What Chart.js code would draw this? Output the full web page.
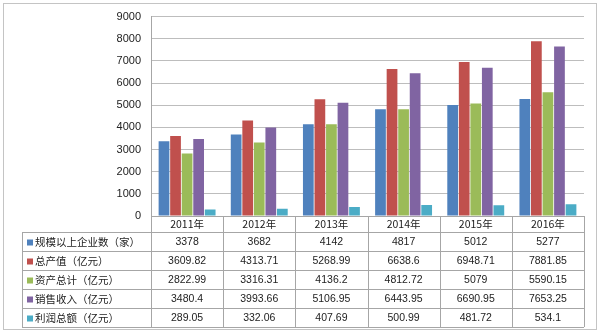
<!DOCTYPE html>
<html>
<head>
<meta charset="utf-8">
<script src="https://cdn.jsdelivr.net/npm/chart.js@4"></script>
<style>
  html, body { margin: 0; padding: 0; background: #fff; }
  canvas { display: block; }
</style>
</head>
<body>
<canvas id="c" width="600" height="335"></canvas>
<script>
// 2011-2016 industry figures, bars plus a data table under the axis
const categories = ['2011年', '2012年', '2013年', '2014年', '2015年', '2016年'];
const seriesNames = ['规模以上企业数（家）', '总产值（亿元）', '资产总计（亿元）', '销售收入（亿元）', '利润总额（亿元）'];
const firms   = [3378, 3682, 4142, 4817, 5012, 5277];
const output  = [3609.82, 4313.71, 5268.99, 6638.6, 6948.71, 7881.85];
const assets  = [2822.99, 3316.31, 4136.2, 4812.72, 5079, 5590.15];
const revenue = [3480.4, 3993.66, 5106.95, 6443.95, 6690.95, 7653.25];
const profit  = [289.05, 332.06, 407.69, 500.99, 481.72, 534.1];
const yTicks  = [0, 1000, 2000, 3000, 4000, 5000, 6000, 7000, 8000, 9000];

const COLORS = ['#4F81BD', '#C0504D', '#9BBB59', '#8064A2', '#4BACC6'];
const allSeries = [firms, output, assets, revenue, profit];

const LINE = '#a6a6a6';
const TEXT = '#222';
const CJK = '"Noto Sans CJK SC", sans-serif';
const NUM = '"Liberation Sans", Arial, sans-serif';

// draws the data table (year header, legend keys, values) under the x axis
const tablePlugin = {
    id: 'dataTable',
    beforeDraw(chart) {
        const ctx = chart.ctx;
        ctx.save();
        ctx.fillStyle = '#fff';
        ctx.fillRect(0, 0, chart.width, chart.height);
        ctx.strokeStyle = '#c4c4c4';
        ctx.lineWidth = 1;
        ctx.strokeRect(3.5, 3.5, 593, 326);
        ctx.restore();
    },
    afterDraw(chart) {
        const ctx = chart.ctx;
        const x = chart.scales.x;
        const area = chart.chartArea;
        const step = (area.right - area.left) / categories.length;
        const top = area.bottom;
        const rowH = 19;
        const firstRow = top + 16;
        const tableLeft = 22;
        const bottom = firstRow + rowH * seriesNames.length;

        ctx.save();
        ctx.strokeStyle = LINE;
        ctx.lineWidth = 1;
        ctx.beginPath();
        for (let i = 0; i <= categories.length; i++) {
            const px = Math.round(area.left + step * i) + 0.5;
            ctx.moveTo(px, top);
            ctx.lineTo(px, bottom);
        }
        ctx.moveTo(tableLeft + 0.5, firstRow);
        ctx.lineTo(tableLeft + 0.5, bottom);
        for (let r = 0; r <= seriesNames.length; r++) {
            const py = Math.round(firstRow + rowH * r) + 0.5;
            ctx.moveTo(tableLeft, py);
            ctx.lineTo(area.right, py);
        }
        ctx.stroke();

        ctx.textBaseline = 'middle';
        ctx.textAlign = 'center';
        ctx.fillStyle = TEXT;
        ctx.font = '10.5px ' + CJK;
        categories.forEach((c, i) => {
            ctx.fillText(c, x.getPixelForValue(i), top + 8);
        });

        seriesNames.forEach((name, r) => {
            const cy = firstRow + rowH * r + rowH / 2 + 1;
            ctx.fillStyle = COLORS[r];
            ctx.fillRect(27, cy - 3, 6, 6);
            ctx.fillStyle = TEXT;
            ctx.textAlign = 'left';
            ctx.font = '10.5px ' + CJK;
            ctx.fillText(name, 35, cy);
            ctx.textAlign = 'center';
            ctx.font = '10.5px ' + NUM;
            allSeries[r].forEach((v, i) => {
                ctx.fillText(String(v), x.getPixelForValue(i), cy);
            });
        });
        ctx.restore();
    }
};

new Chart(document.getElementById('c'), {
    type: 'bar',
    data: {
        labels: categories,
        datasets: seriesNames.map((name, i) => ({
            label: name,
            data: allSeries[i],
            backgroundColor: COLORS[i],
            categoryPercentage: 0.8,
            barPercentage: 0.93
        }))
    },
    options: {
        responsive: false,
        animation: false,
        devicePixelRatio: 1,
        layout: { padding: { left: 0, right: 16, top: 14, bottom: 0 } },
        plugins: {
            legend: { display: false },
            tooltip: { enabled: false }
        },
        scales: {
            x: {
                grid: { display: false },
                border: { color: LINE },
                ticks: { display: false },
                afterFit(scale) { scale.height = 119; }
            },
            y: {
                min: 0,
                max: 9000,
                afterBuildTicks(scale) { scale.ticks = yTicks.map(v => ({ value: v })); },
                grid: { color: '#bdbdbd', drawTicks: false },
                border: { color: LINE },
                ticks: {
                    color: TEXT,
                    padding: 10,
                    font: { size: 11, family: NUM },
                    callback: v => String(v)
                },
                afterFit(scale) { scale.width = 151; }
            }
        }
    },
    plugins: [tablePlugin]
});
</script>
</body>
</html>
